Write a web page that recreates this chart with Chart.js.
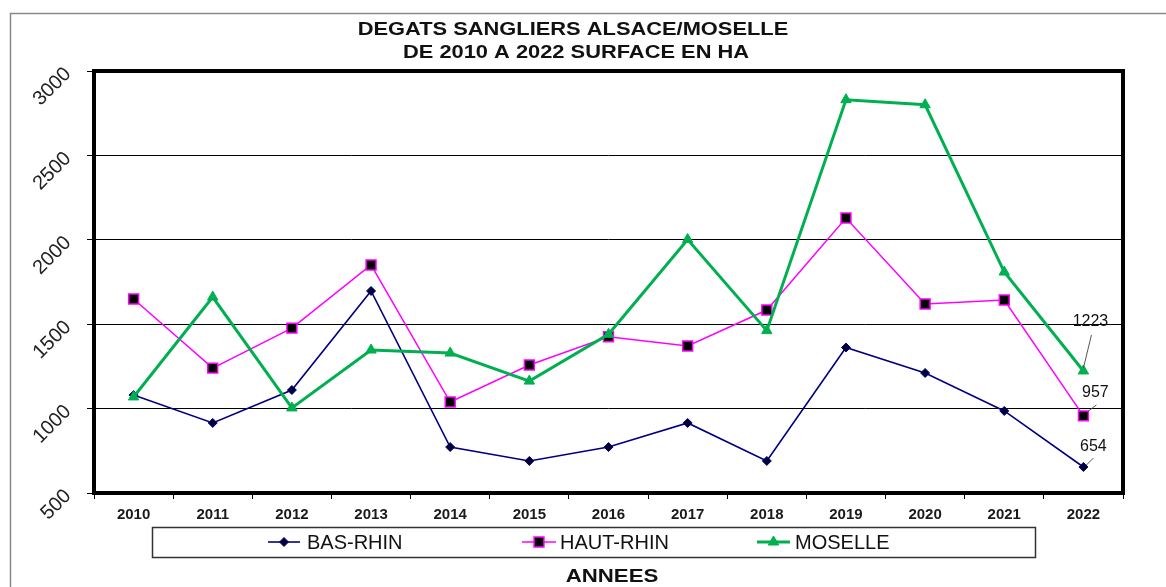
<!DOCTYPE html>
<html>
<head>
<meta charset="utf-8">
<script src="https://cdn.jsdelivr.net/npm/chart.js@4"></script>
<style>
  html, body { margin: 0; padding: 0; background: #fff; }
  #wrap { width: 1166px; height: 587px; position: relative; overflow: hidden; }
</style>
</head>
<body>
<div id="wrap"><canvas id="myChart" width="1166" height="587"></canvas></div>
<script>
const annees = ["2010", "2011", "2012", "2013", "2014", "2015", "2016", "2017", "2018", "2019", "2020", "2021", "2022"];
const basRhin = [1080, 915, 1110, 1697, 772, 690, 772, 915, 690, 1362, 1211, 986, 654];
const hautRhin = [1649, 1240, 1477, 1851, 1039, 1258, 1426, 1371, 1584, 2129, 1620, 1643, 957];
const moselle = [1069, 1661, 1004, 1347, 1329, 1163, 1440, 2002, 1462, 2830, 2800, 1809, 1223];
const yTicks = [500, 1000, 1500, 2000, 2500, 3000];
const titleLines = ["DEGATS SANGLIERS ALSACE/MOSELLE", "DE 2010 A 2022 SURFACE EN HA"];
const axisTitle = "ANNEES";

const FONT = "'Liberation Sans', Arial, sans-serif";

const datasets = [
  {
    label: "BAS-RHIN",
    data: basRhin,
    borderColor: "#000080",
    backgroundColor: "#000033",
    borderWidth: 1.6,
    pointStyle: "rectRot",
    pointRadius: 4.5,
    pointBorderColor: "#000080",
    pointBackgroundColor: "#000033",
    pointBorderWidth: 1,
    order: 2,
  },
  {
    label: "HAUT-RHIN",
    data: hautRhin,
    borderColor: "#ff00ff",
    backgroundColor: "#000000",
    borderWidth: 1.5,
    pointStyle: "rect",
    pointRadius: 7,
    pointBorderColor: "#ff00ff",
    pointBackgroundColor: "#000000",
    pointBorderWidth: 1.5,
    order: 1,
  },
  {
    label: "MOSELLE",
    data: moselle,
    borderColor: "#00b050",
    backgroundColor: "#00b050",
    borderWidth: 3,
    pointStyle: "triangle",
    pointRadius: 6,
    pointBorderColor: "#00b050",
    pointBackgroundColor: "#00b050",
    pointBorderWidth: 1,
    order: 0,
  },
];

// where the 2022 value labels sit relative to their point
const endLabels = [
  { ds: 0, dx: 10, dy: -20, line: [3, -2, 10, -9] },
  { ds: 1, dx: 12, dy: -23, line: [4, -4, 13, -11] },
  { ds: 2, dx: 7, dy: -49, line: [0, -3, 8, -36] },
];

const legendItems = [
  { ds: 0, x1: 268, x2: 300, tx: 307 },
  { ds: 1, x1: 522, x2: 556, tx: 560 },
  { ds: 2, x1: 757, x2: 790, tx: 795 },
];

// text drawn a bit wider than the font, like the original sheet
function wideText(ctx, text, cx, cy, stretch) {
  ctx.save();
  ctx.translate(cx, cy);
  ctx.scale(stretch, 1);
  ctx.fillText(text, 0, 0);
  ctx.restore();
}

const decor = {
  id: "decor",
  afterDraw(chart) {
    const { ctx, chartArea: a } = chart;
    ctx.save();

    // outer frame of the sheet
    ctx.strokeStyle = "#8a8a8a";
    ctx.lineWidth = 1.5;
    ctx.beginPath();
    ctx.moveTo(10.5, 600);
    ctx.lineTo(10.5, 13.5);
    ctx.lineTo(1200, 13.5);
    ctx.stroke();

    // title
    ctx.fillStyle = "#111";
    ctx.font = "bold 19px " + FONT;
    ctx.textAlign = "center";
    ctx.textBaseline = "middle";
    wideText(ctx, titleLines[0], 573, 30, 1.15);
    wideText(ctx, titleLines[1], 576, 53, 1.15);

    // thick plot frame
    ctx.strokeStyle = "#000";
    ctx.lineWidth = 4;
    ctx.strokeRect(a.left, a.top, a.right - a.left, a.bottom - a.top);

    // 2022 value labels
    ctx.font = "16px " + FONT;
    ctx.fillStyle = "#111";
    endLabels.forEach(({ ds, dx, dy, line }) => {
      const meta = chart.getDatasetMeta(ds);
      const pt = meta.data[meta.data.length - 1];
      const value = chart.data.datasets[ds].data[meta.data.length - 1];
      ctx.strokeStyle = "#555";
      ctx.lineWidth = 1;
      ctx.beginPath();
      ctx.moveTo(pt.x + line[0], pt.y + line[1]);
      ctx.lineTo(pt.x + line[2], pt.y + line[3]);
      ctx.stroke();
      wideText(ctx, String(value), pt.x + dx, pt.y + dy, 1.0);
    });

    // legend box
    ctx.strokeStyle = "#333";
    ctx.lineWidth = 1.5;
    ctx.strokeRect(152.5, 527.5, 883, 30);
    const ly = 542;
    ctx.font = "20px " + FONT;
    ctx.textAlign = "left";
    legendItems.forEach(({ ds, x1, x2, tx }) => {
      const d = chart.data.datasets[ds];
      ctx.strokeStyle = d.borderColor;
      ctx.lineWidth = d.borderWidth;
      ctx.beginPath();
      ctx.moveTo(x1, ly);
      ctx.lineTo(x2, ly);
      ctx.stroke();
      ctx.fillStyle = d.pointBackgroundColor;
      ctx.strokeStyle = d.pointBorderColor;
      ctx.lineWidth = d.pointBorderWidth;
      Chart.helpers.drawPoint(ctx, {
        pointStyle: d.pointStyle,
        radius: d.pointRadius,
        rotation: 0,
        borderWidth: d.pointBorderWidth,
      }, (x1 + x2) / 2, ly);
      ctx.fillStyle = "#111";
      ctx.fillText(d.label, tx, ly + 1);
    });

    // x axis title
    ctx.font = "bold 19px " + FONT;
    ctx.textAlign = "center";
    wideText(ctx, axisTitle, 612, 577, 1.17);

    ctx.restore();
  },
};

new Chart(document.getElementById("myChart"), {
  type: "line",
  data: { labels: annees, datasets },
  options: {
    responsive: false,
    animation: false,
    devicePixelRatio: 1,
    layout: { padding: { left: 10, top: 71, right: 43, bottom: 0 } },
    elements: { line: { tension: 0 } },
    plugins: {
      legend: { display: false },
      title: { display: false },
      tooltip: { enabled: false },
    },
    scales: {
      x: {
        offset: true,
        grid: {
          offset: true,
          drawOnChartArea: false,
          drawTicks: true,
          tickLength: 6,
          color: "#000",
          lineWidth: 1,
        },
        border: { display: false },
        ticks: {
          color: "#1a1a1a",
          font: { family: FONT, size: 15, weight: "bold" },
          padding: 7,
          maxRotation: 0,
        },
        afterFit(scale) { scale.height = 94; },
      },
      y: {
        min: 500,
        max: 3000,
        afterBuildTicks(scale) { scale.ticks = yTicks.map(v => ({ value: v })); },
        grid: {
          color: "#000",
          lineWidth: 1,
          tickLength: 7,
        },
        border: { display: false },
        ticks: {
          color: "#222",
          font: { family: FONT, size: 20 },
          minRotation: 45,
          maxRotation: 45,
          padding: 19,
          callback: (v) => String(v),
        },
        afterFit(scale) { scale.width = 84; },
      },
    },
  },
  plugins: [decor],
});
</script>
</body>
</html>
